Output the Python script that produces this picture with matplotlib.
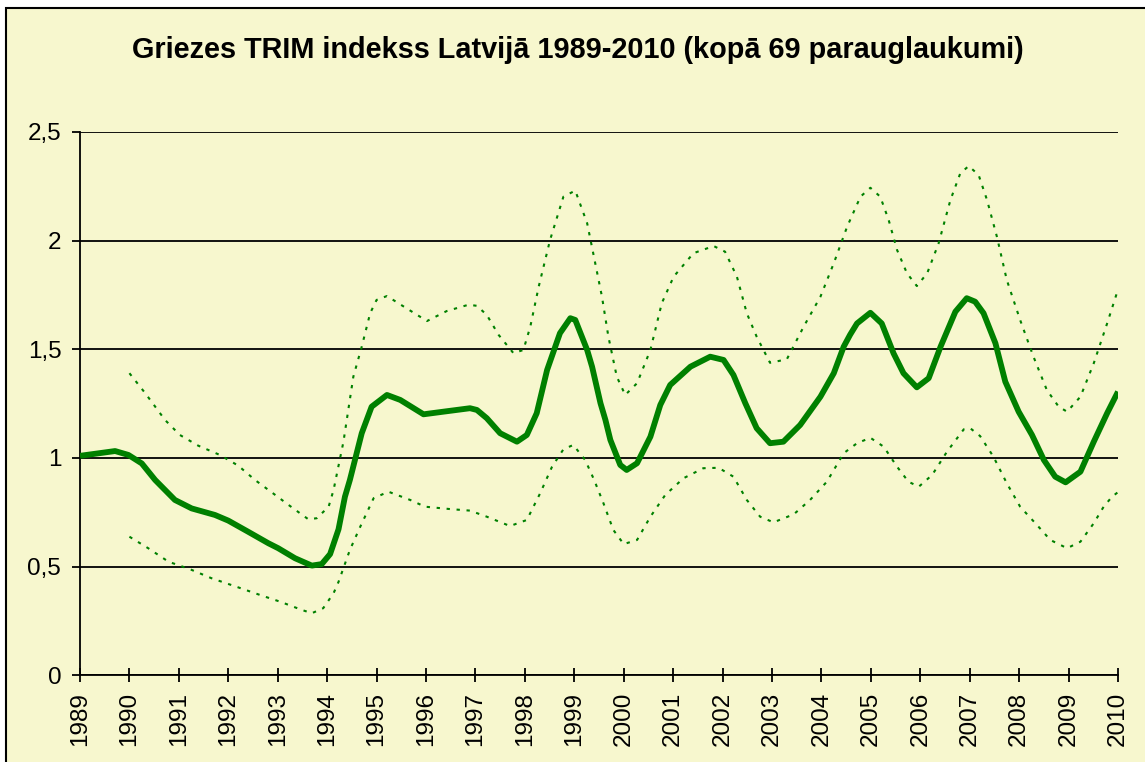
import matplotlib
matplotlib.use("Agg")
import matplotlib.pyplot as plt
from matplotlib.patches import Rectangle

plt.rcParams['font.family'] = ['Liberation Sans', 'DejaVu Sans']

# vidējais indekss
mean_x = [1989.0, 1989.71, 1989.98, 1990.25, 1990.52, 1990.92, 1991.26, 1991.73, 1992.0,
          1992.4, 1992.81, 1993.01, 1993.35, 1993.69, 1993.89, 1994.06, 1994.23, 1994.36,
          1994.46, 1994.7, 1994.9, 1995.21, 1995.48, 1995.95, 1996.35, 1996.89, 1997.03,
          1997.23, 1997.5, 1997.84, 1998.04, 1998.24, 1998.45, 1998.71, 1998.92, 1999.02,
          1999.26, 1999.36, 1999.53, 1999.63, 1999.73, 1999.93, 2000.06, 2000.27, 2000.54,
          2000.74, 2000.94, 2001.35, 2001.75, 2002.02, 2002.22, 2002.46, 2002.69, 2002.96,
          2003.23, 2003.57, 2003.98, 2004.25, 2004.45, 2004.58, 2004.72, 2004.99, 2005.22,
          2005.46, 2005.66, 2005.93, 2006.17, 2006.41, 2006.71, 2006.94, 2007.11, 2007.28,
          2007.52, 2007.72, 2007.99, 2008.26, 2008.5, 2008.73, 2008.94, 2009.24, 2009.51,
          2009.78, 2010.0]
mean_y = [1.01, 1.032, 1.014, 0.975, 0.899, 0.807, 0.768, 0.738, 0.712,
          0.661, 0.608, 0.585, 0.539, 0.505, 0.512, 0.558, 0.672, 0.822,
          0.899, 1.114, 1.236, 1.29, 1.267, 1.201, 1.213, 1.229, 1.221,
          1.183, 1.114, 1.075, 1.106, 1.206, 1.405, 1.574, 1.643, 1.635,
          1.497, 1.42, 1.252, 1.175, 1.083, 0.968, 0.945, 0.976, 1.098,
          1.244, 1.336, 1.42, 1.466, 1.451, 1.382, 1.252, 1.137, 1.068,
          1.075, 1.152, 1.282, 1.39, 1.512, 1.567, 1.619, 1.668, 1.619,
          1.481, 1.39, 1.325, 1.367, 1.512, 1.673, 1.735, 1.719, 1.666,
          1.528, 1.351, 1.213, 1.106, 0.991, 0.914, 0.888, 0.937, 1.075,
          1.206, 1.305]

# augšējā robeža
upper_x = [1990.0, 1990.32, 1990.72, 1991.02, 1991.39, 1991.83, 1992.2, 1992.54, 1992.95,
           1993.22, 1993.62, 1993.79, 1994.03, 1994.13, 1994.33, 1994.53, 1994.7, 1994.87,
           1995.0, 1995.21, 1995.61, 1996.02, 1996.42, 1996.86, 1997.03, 1997.23, 1997.47,
           1997.77, 1997.97, 1998.11, 1998.28, 1998.51, 1998.78, 1999.02, 1999.26, 1999.39,
           1999.56, 1999.69, 1999.86, 2000.03, 2000.27, 2000.54, 2000.77, 2001.01, 2001.41,
           2001.82, 2002.05, 2002.29, 2002.49, 2002.69, 2002.96, 2003.3, 2003.64, 2003.98,
           2004.25, 2004.52, 2004.79, 2004.99, 2005.19, 2005.36, 2005.53, 2005.73, 2005.93,
           2006.14, 2006.37, 2006.61, 2006.81, 2006.98, 2007.18, 2007.35, 2007.55, 2007.75,
           2008.02, 2008.29, 2008.56, 2008.8, 2008.97, 2009.24, 2009.51, 2009.78, 2010.0]
upper_y = [1.39, 1.298, 1.175, 1.106, 1.057, 1.014, 0.965, 0.899, 0.83,
           0.784, 0.718, 0.723, 0.776, 0.853, 1.075, 1.374, 1.512, 1.666,
           1.727, 1.745, 1.688, 1.63, 1.676, 1.705, 1.7, 1.658, 1.566,
           1.482, 1.497, 1.604, 1.788, 2.003, 2.202, 2.23, 2.08, 1.934,
           1.742, 1.558, 1.374, 1.29, 1.344, 1.497, 1.712, 1.834, 1.942,
           1.975, 1.949, 1.834, 1.666, 1.558, 1.438, 1.454, 1.604, 1.742,
           1.896, 2.064, 2.202, 2.243, 2.202, 2.095, 1.957, 1.85, 1.791,
           1.85, 1.987, 2.187, 2.31, 2.343, 2.302, 2.187, 2.018, 1.819,
           1.635, 1.466, 1.313, 1.236, 1.213, 1.282, 1.436, 1.619, 1.775]

# apakšējā robeža
lower_x = [1990.0, 1990.38, 1990.79, 1991.23, 1991.66, 1992.2, 1992.68, 1993.05, 1993.49,
           1993.69, 1993.92, 1994.13, 1994.23, 1994.46, 1994.67, 1994.94, 1995.24, 1995.68,
           1995.98, 1996.49, 1996.89, 1997.23, 1997.7, 1998.04, 1998.31, 1998.55, 1998.78,
           1998.98, 1999.22, 1999.4, 1999.59, 1999.79, 2000.0, 2000.27, 2000.54, 2000.84,
           2001.21, 2001.61, 2001.92, 2002.22, 2002.49, 2002.76, 2003.03, 2003.44, 2003.77,
           2004.11, 2004.45, 2004.72, 2004.99, 2005.26, 2005.53, 2005.76, 2005.97, 2006.24,
           2006.54, 2006.88, 2007.01, 2007.21, 2007.48, 2007.75, 2008.02, 2008.36, 2008.63,
           2008.97, 2009.24, 2009.51, 2009.71, 2009.88, 2010.0]
lower_y = [0.638, 0.585, 0.523, 0.488, 0.447, 0.405, 0.367, 0.339, 0.301,
           0.286, 0.309, 0.378, 0.43, 0.577, 0.684, 0.815, 0.845, 0.807,
           0.776, 0.765, 0.758, 0.73, 0.687, 0.715, 0.838, 0.96, 1.04,
           1.06, 0.991, 0.9, 0.792, 0.669, 0.604, 0.623, 0.73, 0.83,
           0.907, 0.953, 0.955, 0.914, 0.807, 0.73, 0.704, 0.741, 0.807,
           0.891, 1.022, 1.068, 1.093, 1.052, 0.96, 0.891, 0.868, 0.922,
           1.029, 1.132, 1.137, 1.101, 1.006, 0.884, 0.776, 0.692, 0.623,
           0.585, 0.615, 0.7, 0.776, 0.822, 0.843]

year_ticks = list(range(1989, 2011))
y_ticks = [0, 0.5, 1, 1.5, 2, 2.5]
y_labels = ["0", "0,5", "1", "1,5", "2", "2,5"]

title = "Griezes TRIM indekss Latvijā 1989-2010 (kopā 69 parauglaukumi)"

W, H = 1145, 762
fig = plt.figure(figsize=(W / 100, H / 100), dpi=100, facecolor="white")

# chart area with black border (right/bottom edges run off the picture)
fig.patches.append(Rectangle((6 / W, -0.01), 1.02, 1 - 8 / H + 0.01,
                             transform=fig.transFigure, facecolor="#F7F7CE",
                             edgecolor="black", linewidth=1.5, zorder=-10))

ax = fig.add_axes([80 / W, 1 - 675.4 / H, 1038 / W, (675.4 - 131.9) / H])
ax.set_facecolor("none")

dots = (0, (1.6, 3.2))
ax.plot(upper_x, upper_y, color="#008000", lw=1.5, ls=dots, zorder=3)
ax.plot(lower_x, lower_y, color="#008000", lw=1.5, ls=dots, zorder=3)
ax.plot(mean_x, mean_y, color="#008000", lw=4.2, solid_joinstyle="round",
        solid_capstyle="butt", zorder=4)

ax.set_xlim(1989, 2010)
ax.set_ylim(0, 2.5)
ax.set_xticks(year_ticks)
ax.set_xticklabels([str(y) for y in year_ticks], rotation=90, fontsize=17.5)
ax.set_yticks(y_ticks)
ax.set_yticklabels(y_labels, fontsize=17.5)
ax.tick_params(axis="x", direction="inout", length=9.5, width=1.3, pad=7)
ax.tick_params(axis="y", direction="out", length=5.5, width=1.3, pad=8)

ax.grid(axis="y", color="black", lw=1.3)
ax.set_axisbelow(True)
ax.spines[["top", "right"]].set_visible(False)
for s in ["left", "bottom"]:
    ax.spines[s].set_linewidth(1.3)

fig.text(578 / W, 1 - 50 / H, title, ha="center", va="center",
         fontsize=20.8, fontweight="bold")

fig.savefig("out.png", dpi=100, facecolor="white")
